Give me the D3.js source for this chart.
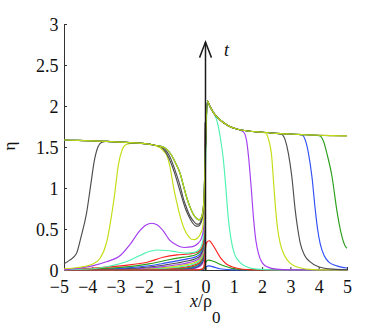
<!DOCTYPE html>
<html><head><meta charset="utf-8">
<script src="https://cdn.jsdelivr.net/npm/d3@7"></script>
<style>
body{margin:0;background:#fff}
svg{display:block}
</style>
</head><body>
<svg id="chart" width="382" height="330"></svg>
<script>
// ---------- tick labels ----------
const xTicks = [-5,-4,-3,-2,-1,0,1,2,3,4,5];
const yTicks = [0,0.5,1,1.5,2,2.5,3];

// ---------- colours (series names) ----------
const colors = {red:"#ff1f1f", green:"#2a9e1a", blue:"#2f4ef5", aqua:"#4ef2b0",
  purple:"#a43cf0", yg:"#c3dd14", gray:"#4d4d4d"};

// ---------- shared envelope (plateau left, decaying crest right) ----------
const envLeft = [[-5,1.585],[-4.5,1.58],[-4,1.575],[-3.5,1.568],[-3,1.56],[-2.5,1.55],[-2,1.535],[-1.8,1.522],[-1.6,1.51]];
const envRight = [[0.07,2.06],[0.15,2.0],[0.3,1.91],[0.5,1.835],[0.8,1.76],[1.1,1.72],[1.5,1.695],[2,1.68],[2.5,1.667],[3,1.658],[3.5,1.65],[4,1.643],[4.5,1.638],[5,1.635]];

// ---------- troughs left of the origin ----------
const midYgOuter = [[-1.4,1.48],[-1.2,1.40],[-1.05,1.3],[-0.9,1.18],[-0.78,1.03],[-0.67,0.89],[-0.55,0.77],[-0.43,0.68],[-0.32,0.63],[-0.24,0.612],[-0.16,0.63],[-0.1,0.7],[-0.05,0.9],[-0.01,1.4]];
const midGrayEnv = [[-1.45,1.48],[-1.26,1.38],[-1.02,1.16],[-0.9,1.03],[-0.79,0.88],[-0.67,0.76],[-0.55,0.66],[-0.43,0.6],[-0.31,0.56],[-0.24,0.56],[-0.16,0.6],[-0.1,0.68],[-0.05,0.88],[-0.01,1.4]];
const midGray4 = [[-1.5,1.48],[-1.3,1.37],[-1.1,1.19],[-0.95,1.02],[-0.83,0.88],[-0.7,0.74],[-0.57,0.64],[-0.45,0.57],[-0.33,0.535],[-0.25,0.535],[-0.17,0.57],[-0.1,0.66],[-0.05,0.86],[-0.01,1.4]];
const midYg3 = [[-1.6,1.49],[-1.48,1.45],[-1.37,1.40],[-1.25,1.25],[-1.14,1.03],[-1.02,0.83],[-0.9,0.66],[-0.75,0.5],[-0.6,0.41],[-0.49,0.375],[-0.38,0.37],[-0.28,0.39],[-0.18,0.44],[-0.1,0.52],[-0.05,0.72],[-0.01,1.3]];

// ---------- left fronts / bumps ----------
const leftGray4 = [[-5,0.075],[-4.8,0.12],[-4.56,0.2],[-4.4,0.4],[-4.2,0.7],[-4.05,1.05],[-3.93,1.33],[-3.8,1.5],[-3.68,1.555]];
const leftYg3 = [[-5,0.015],[-4.5,0.03],[-4,0.07],[-3.73,0.14],[-3.5,0.33],[-3.35,0.6],[-3.22,0.9],[-3.08,1.28],[-2.95,1.46],[-2.8,1.53],[-2.6,1.545]];
const leftPurple = [[-5,0.005],[-4.5,0.02],[-4,0.05],[-3.5,0.1],[-3.0,0.18],[-2.67,0.31],[-2.32,0.48],[-2.1,0.55],[-1.9,0.57],[-1.7,0.55],[-1.5,0.48],[-1.26,0.36],[-1.0,0.3],[-0.75,0.275],[-0.45,0.285],[-0.28,0.32],[-0.15,0.38],[-0.08,0.48],[-0.04,0.7],[-0.01,1.3]];
const leftAqua = [[-5,0.003],[-4,0.015],[-3.5,0.04],[-3,0.08],[-2.67,0.12],[-2.3,0.18],[-2.0,0.225],[-1.73,0.244],[-1.4,0.238],[-1.0,0.22],[-0.67,0.205],[-0.4,0.215],[-0.22,0.25],[-0.12,0.32],[-0.06,0.45],[-0.02,0.9],[0.02,1.6]];

// ---------- right fronts ----------
const frontAqua = [[0.42,1.8],[0.53,1.6],[0.63,1.35],[0.72,1.0],[0.8,0.65],[0.9,0.38],[1.02,0.2],[1.2,0.1],[1.45,0.04],[1.8,0.01],[2.5,0],[5,0]];
const frontPurple = [[1.34,1.685],[1.45,1.58],[1.53,1.35],[1.62,0.98],[1.7,0.62],[1.78,0.36],[1.88,0.19],[2.0,0.09],[2.2,0.035],[2.5,0.01],[3,0.002],[5,0]];
const frontYg3 = [[2.12,1.67],[2.22,1.6],[2.34,1.38],[2.42,1.0],[2.48,0.73],[2.55,0.5],[2.64,0.325],[2.8,0.17],[3.0,0.08],[3.3,0.03],[3.8,0.005],[5,0]];
const frontGray4 = [[2.7,1.652],[2.82,1.58],[2.93,1.42],[3.05,1.14],[3.17,0.73],[3.26,0.5],[3.35,0.325],[3.5,0.18],[3.7,0.10],[3.99,0.04],[4.5,0.01],[5,0.003]];
const frontBlue = [[3.41,1.646],[3.53,1.58],[3.64,1.42],[3.76,1.14],[3.88,0.73],[3.96,0.5],[4.05,0.325],[4.2,0.17],[4.35,0.1],[4.6,0.055],[4.8,0.035],[5,0.025]];
const frontGreen = [[3.85,1.645],[4.05,1.635],[4.17,1.57],[4.29,1.42],[4.47,1.14],[4.64,0.73],[4.73,0.55],[4.82,0.41],[4.94,0.29],[5,0.265]];

// ---------- early small pulses on the right ----------
const bumpRed = [[-5,0],[-1,0],[-0.3,0.002],[-0.12,0.01],[-0.06,0.04],[-0.03,0.12],[0,0.26],[0.05,0.34],[0.13,0.357],[0.2,0.335],[0.34,0.26],[0.5,0.165],[0.6,0.12],[0.75,0.07],[0.93,0.04],[1.2,0.015],[1.5,0.005],[2,0],[5,0]];
const bumpGreen = [[-5,0],[-0.3,0],[-0.08,0.01],[-0.03,0.04],[0.02,0.1],[0.1,0.12],[0.25,0.11],[0.45,0.08],[0.7,0.045],[0.93,0.02],[1.3,0.005],[2,0],[5,0]];
const bumpBlue = [[-5,0],[-0.2,0],[-0.05,0.01],[0.02,0.04],[0.12,0.05],[0.3,0.035],[0.5,0.015],[1,0.002],[5,0]];

// ---------- early curves clustered near the origin (left side) ----------
const clusterX = [-5,-3,-2,-1.5,-1,-0.6,-0.35,-0.2,-0.1,-0.05,-0.02,0];
const cPurple2 = [0,0,0,0.002,0.004,0.01,0.022,0.044,0.085,0.2,0.58,1.8];
const cGray2   = [0,0,0.001,0.003,0.007,0.015,0.03,0.056,0.1,0.22,0.6,1.8];
const cBlue2   = [0,0,0.002,0.005,0.011,0.022,0.04,0.07,0.12,0.24,0.62,1.8];
const cGreen2  = [0,0.001,0.004,0.009,0.017,0.031,0.052,0.085,0.14,0.26,0.64,1.8];
const cRed2    = [0,0.002,0.007,0.014,0.025,0.042,0.066,0.1,0.16,0.28,0.66,1.8];
const cAqua    = [0,0.003,0.011,0.021,0.035,0.055,0.081,0.117,0.18,0.3,0.68,1.8];
const cYg      = [0,0.005,0.017,0.03,0.048,0.071,0.098,0.134,0.2,0.32,0.7,1.8];
const cPurple  = [0,0.008,0.025,0.042,0.064,0.09,0.117,0.152,0.22,0.34,0.72,1.8];
const cGray    = [0.001,0.013,0.036,0.058,0.085,0.112,0.138,0.172,0.24,0.36,0.74,1.8];
const cBlue    = [0.001,0.02,0.052,0.08,0.112,0.138,0.16,0.195,0.26,0.38,0.76,1.8];
const cGreen   = [0.002,0.032,0.075,0.11,0.145,0.165,0.185,0.22,0.28,0.4,0.78,1.8];
const cRed     = [0.003,0.05,0.10,0.155,0.185,0.195,0.21,0.24,0.30,0.42,0.8,1.8];

// ---------- assembly ----------
const seg = (arr, lo, hi) => arr.filter(p => p[0] > lo && p[0] < hi);
const pairs = ys => clusterX.map((v,i) => [v, ys[i]]);

const series = [
  {c:"purple", d:pairs(cPurple2)}, {c:"gray", d:pairs(cGray2)}, {c:"blue", d:pairs(cBlue2)},
  {c:"green", d:pairs(cGreen2)}, {c:"red", d:pairs(cRed2)}, {c:"aqua", d:pairs(cAqua)},
  {c:"yg", d:pairs(cYg)}, {c:"purple", d:pairs(cPurple)}, {c:"gray", d:pairs(cGray)},
  {c:"blue", d:pairs(cBlue)}, {c:"green", d:pairs(cGreen)}, {c:"red", d:pairs(cRed)},
  {c:"blue", d:bumpBlue}, {c:"green", d:bumpGreen}, {c:"red", d:bumpRed},
  {c:"aqua", d:[...leftAqua, ...seg(envRight,0,0.4), ...frontAqua]},
  {c:"purple", d:[...leftPurple, ...seg(envRight,0,1.2), ...frontPurple]},
  {c:"yg", d:[...leftYg3, ...seg(envLeft,-2.55,-1.7), ...midYg3, ...seg(envRight,0,2.05), ...frontYg3]},
  {c:"gray", d:[...leftGray4, ...seg(envLeft,-3.6,-1.55), ...midGray4, ...seg(envRight,0,2.55), ...frontGray4]},
  {c:"blue", d:[...envLeft, ...midYgOuter, ...seg(envRight,0,3.25), ...frontBlue]},
  {c:"green", d:[...envLeft, ...midYgOuter, ...seg(envRight,0,3.6), ...frontGreen]},
  {c:"gray", d:[...envLeft, ...midGrayEnv, ...envRight]},
  {c:"yg", d:[...envLeft, ...midYgOuter, ...envRight]}
];

// ---------- drawing ----------
const svg = d3.select("#chart");
const x = d3.scaleLinear().domain([-5,5]).range([64,347]);
const y = d3.scaleLinear().domain([0,3]).range([270,24]);
const FONT = '"Liberation Serif","Times New Roman",serif';
const FS = "18px";
const axisColor = "#333";

const yAxis = d3.axisLeft(y).tickValues(yTicks).tickSizeInner(-3).tickSizeOuter(0)
  .tickPadding(5.5).tickFormat(d => String(d));
const gy = svg.append("g").attr("transform", `translate(${x(-5)},0)`).call(yAxis);
const xAxis = d3.axisBottom(x).tickValues(xTicks).tickSizeInner(-3).tickSizeOuter(0)
  .tickPadding(11).tickFormat(d => d < 0 ? "\u2212" + Math.abs(d) : String(d));
const gx = svg.append("g").attr("transform", `translate(0,${y(0)})`).call(xAxis);

[gx, gy].forEach(g => {
  g.attr("font-family", null).attr("font-size", null);
  g.select(".domain").attr("stroke", axisColor).attr("stroke-width", 1);
  g.selectAll(".tick line").attr("stroke", axisColor).attr("stroke-width", 1);
  g.selectAll("text").attr("fill", null)
    .style("font-family", FONT).style("font-size", FS).style("fill", "#111");
});
gy.selectAll("text").attr("dy", "0.38em");
gx.selectAll("text").attr("dy", "0.69em");
gx.selectAll("text").filter(d => d < 0).attr("text-anchor", "end").attr("x", 4.5);

const line = d3.line().x(p => x(p[0])).y(p => y(p[1])).curve(d3.curveMonotoneX);
svg.append("g").selectAll("path").data(series).join("path")
  .attr("d", s => line(s.d)).attr("fill", "none")
  .attr("stroke", s => colors[s.c]).attr("stroke-width", 1.15)
  .attr("stroke-linejoin", "round");

// time arrow along x = 0
const arrowTip = 2.78, arrowArmX = 0.21, arrowArmY = 2.59;
const ga = svg.append("g").attr("stroke", "#1a1a1a").attr("stroke-width", 1.5).attr("fill", "none");
ga.append("line").attr("x1", x(0)).attr("x2", x(0)).attr("y1", y(0)).attr("y2", y(arrowTip));
ga.append("path").attr("d", d3.line()([[x(-arrowArmX), y(arrowArmY)], [x(0), y(arrowTip)], [x(arrowArmX), y(arrowArmY)]]));

svg.append("text").attr("x", 224).attr("y", 56)
  .style("font-family", FONT).style("font-style", "italic").style("font-size", FS).style("fill", "#111").text("t");

// axis titles
const xl = svg.append("text").attr("x", 190).attr("y", 307)
  .style("font-family", FONT).style("font-size", FS).style("fill", "#111");
xl.append("tspan").style("font-style", "italic").text("x");
xl.append("tspan").text("/ρ");
xl.append("tspan").attr("dy", 16).style("font-size", "17px").text("0");

svg.append("text").attr("transform", "translate(15,146) rotate(-90)")
  .attr("text-anchor", "middle").style("font-family", FONT).style("font-size", "17px")
  .style("fill", "#111").text("η");
</script>
</body></html>
